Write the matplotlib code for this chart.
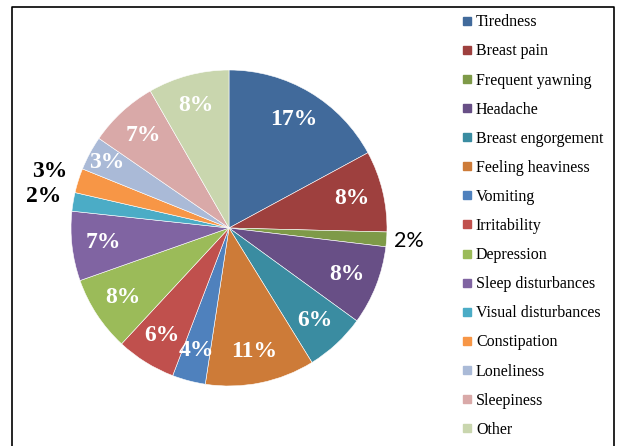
#!/usr/bin/env python3

import numpy as np
import matplotlib
matplotlib.use("Agg")
import matplotlib.pyplot as plt
from matplotlib.lines import Line2D

categories = ["Tiredness", "Breast pain", "Frequent yawning", "Headache",
              "Breast engorgement", "Feeling heaviness", "Vomiting",
              "Irritability", "Depression", "Sleep disturbances",
              "Visual disturbances", "Constipation", "Loneliness",
              "Sleepiness", "Other"]
shares = [17.1, 8.3, 1.5, 8.1, 6.2, 11.2, 3.4, 6.1, 7.7, 7.1, 1.9, 2.5, 3.5, 7.1, 8.3]
pct_labels = ["17%", "8%", "2%", "8%", "6%", "11%", "4%", "6%", "8%", "7%",
              "2%", "3%", "3%", "7%", "8%"]
colors = ["#416a9b", "#9e403e", "#7e9a48", "#684f86", "#3a8ca1", "#cd7b38",
          "#4f81bd", "#c0504d", "#9bbb59", "#8064a2", "#4bacc6", "#f79646",
          "#aabad7", "#d9a9a8", "#c9d6ae"]

W, H = 621, 446
fig = plt.figure(figsize=(W / 100, H / 100), dpi=100)

# pie axes: centre (229, 228) px, radius 158 px
cx, cy, r = 229, 228, 158
ax = fig.add_axes([(cx - r) / W, (H - cy - r) / H, 2 * r / W, 2 * r / H])
wedges, _ = ax.pie(shares, colors=colors, startangle=90, counterclock=False,
                   radius=1, wedgeprops=dict(edgecolor="white", linewidth=0.4))
ax.set_xlim(-1, 1)
ax.set_ylim(-1, 1)
ax.set_aspect("equal")
ax.axis("off")

serif = "Liberation Serif"
for i, w in enumerate(wedges):
    mid = np.deg2rad((w.theta1 + w.theta2) / 2)
    lab = pct_labels[i]
    if categories[i] == "Frequent yawning":
        d = 1.14
        ax.text(d * np.cos(mid), d * np.sin(mid), lab, ha="center", va="center",
                fontsize=15.5, family="Lato", color="black", clip_on=False)
    elif categories[i] in ("Visual disturbances", "Constipation"):
        d = 1.19
        ax.text(d * np.cos(mid), d * np.sin(mid), lab, ha="center", va="center",
                fontsize=17, family=serif, weight="bold", color="black",
                clip_on=False)
    else:
        d = 0.88 if categories[i] == "Loneliness" else 0.8
        ax.text(d * np.cos(mid), d * np.sin(mid), lab, ha="center", va="center",
                fontsize=17, family=serif, weight="bold", color="white")

# legend
handles = [Line2D([], [], marker="s", linestyle="none", markersize=6,
                  markerfacecolor=c, markeredgecolor=c) for c in colors]
fig.legend(handles, categories, loc="upper left",
           bbox_to_anchor=(456 / W, 1 - 8 / H), frameon=False,
           prop=dict(family=serif, size=11.5), labelspacing=0.82,
           handlelength=0.6, handletextpad=0.25, borderaxespad=0)

# outer frame (bottom edge cut off)
fig.add_artist(Line2D([12 / W, 12 / W, 614 / W, 614 / W],
                      [0, 1 - 7 / H, 1 - 7 / H, 0],
                      transform=fig.transFigure, color="black", linewidth=1.2))

fig.savefig("out.png", dpi=100)
